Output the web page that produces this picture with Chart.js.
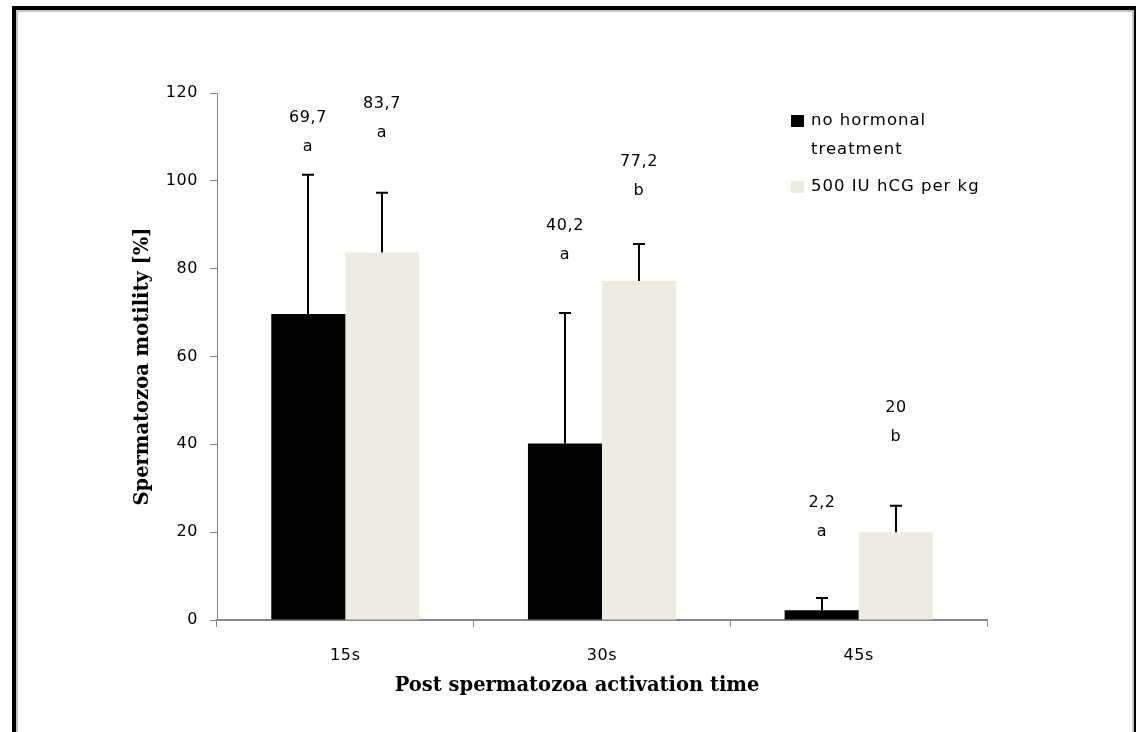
<!DOCTYPE html>
<html>
<head>
<meta charset="utf-8">
<script src="https://cdn.jsdelivr.net/npm/chart.js@4.4.1/dist/chart.umd.min.js"></script>
<style>
    html, body { margin: 0; padding: 0; background: #fff; overflow: hidden; }
    #frame {
        position: absolute; left: 12px; top: 6px; width: 1118px; height: 740px;
        border: 4px solid #000; border-bottom: none;
        box-shadow: inset 0 0 0 2px #c4c4c4;
    }
    #chart { position: absolute; left: 0; top: 0; }
</style>
</head>
<body>
<div id="frame"></div>
<canvas id="chart" width="1136" height="732"></canvas>
<script>
const categories = ['15s', '30s', '45s'];
const seriesNames = ['no hormonal treatment', '500 IU hCG per kg'];
const noHormone = [69.7, 40.2, 2.2];
const hcg = [83.7, 77.2, 20];
const noHormoneErr = [31.7, 29.7, 2.8];
const hcgErr = [13.6, 8.4, 6.0];
const noHormoneLetters = ['a', 'a', 'a'];
const hcgLetters = ['a', 'b', 'b'];
// value level where each significance letter is written
const noHormoneLetterAt = [107.7, 83.1, 20.0];
const hcgLetterAt = [110.9, 97.7, 41.7];
const yTicks = [0, 20, 40, 60, 80, 100, 120];
const xTitle = 'Post spermatozoa activation time';
const yTitle = 'Spermatozoa motility [%]';

const sansFont = "'DejaVu Sans', sans-serif";
const serifFont = "'DejaVu Serif', serif";

const spacing = {
    id: 'spacing',
    beforeDraw(chart) {
        chart.ctx.letterSpacing = '0.6px';
    }
};

const errorBars = {
    id: 'errorBars',
    afterDatasetsDraw(chart) {
        const ctx = chart.ctx;
        const y = chart.scales.y;
        ctx.save();
        ctx.strokeStyle = '#000';
        ctx.lineWidth = 2;
        chart.data.datasets.forEach(function (ds, di) {
            chart.getDatasetMeta(di).data.forEach(function (bar, i) {
                const top = y.getPixelForValue(ds.data[i] + ds.errors[i]);
                const base = y.getPixelForValue(ds.data[i]);
                const x = Math.round(bar.x);
                ctx.beginPath();
                ctx.moveTo(x, base);
                ctx.lineTo(x, top);
                ctx.moveTo(x - 6, top);
                ctx.lineTo(x + 6, top);
                ctx.stroke();

                // value and letter above the bar
                const ly = y.getPixelForValue(ds.letterAt[i]);
                ctx.fillStyle = '#000';
                ctx.font = '16px ' + sansFont;
                ctx.textAlign = 'center';
                ctx.textBaseline = 'middle';
                ctx.fillText(String(ds.data[i]).replace('.', ','), x, ly - 29);
                ctx.fillText(ds.letters[i], x, ly);
            });
        });
        ctx.restore();
    }
};

const sideLegend = {
    id: 'sideLegend',
    afterDraw(chart) {
        const ctx = chart.ctx;
        const area = chart.chartArea;
        const x0 = area.left + 574;
        const y0 = area.top + 28;
        ctx.save();
        ctx.font = '16.5px ' + sansFont;
        ctx.letterSpacing = '1px';
        ctx.textAlign = 'left';
        ctx.textBaseline = 'middle';
        ctx.fillStyle = '#000';
        ctx.fillRect(x0, y0 - 6, 13, 12);
        ctx.fillText('no hormonal', x0 + 20, y0);
        ctx.fillText('treatment', x0 + 20, y0 + 29);
        ctx.fillStyle = '#EEECE1';
        ctx.fillRect(x0, y0 + 60, 13, 12);
        ctx.fillStyle = '#000';
        ctx.fillText(seriesNames[1], x0 + 20, y0 + 66);

        // axis titles
        ctx.letterSpacing = '0px';
        ctx.font = 'bold 19.5px ' + serifFont;
        ctx.textAlign = 'center';
        ctx.fillText(xTitle, (area.left + area.right) / 2 - 25, area.bottom + 66);
        ctx.translate(area.left - 74, (area.top + area.bottom) / 2 + 10);
        ctx.rotate(-Math.PI / 2);
        ctx.fillText(yTitle, 0, 0);
        ctx.restore();
    }
};

new Chart(document.getElementById('chart'), {
    type: 'bar',
    data: {
        labels: categories,
        datasets: [{
            label: seriesNames[0],
            data: noHormone,
            errors: noHormoneErr,
            letters: noHormoneLetters,
            letterAt: noHormoneLetterAt,
            backgroundColor: '#000000',
            categoryPercentage: 0.577,
            barPercentage: 1.0
        }, {
            label: seriesNames[1],
            data: hcg,
            errors: hcgErr,
            letters: hcgLetters,
            letterAt: hcgLetterAt,
            backgroundColor: '#EEECE1',
            categoryPercentage: 0.577,
            barPercentage: 1.0
        }]
    },
    options: {
        responsive: false,
        animation: false,
        layout: { padding: { left: 17, top: 93, right: 149, bottom: 0 } },
        plugins: {
            legend: { display: false },
            tooltip: { enabled: false }
        },
        scales: {
            x: {
                afterFit: function (scale) { scale.height = 112; },
                grid: { drawOnChartArea: false, color: '#868686', tickLength: 7, lineWidth: 1 },
                border: { color: '#868686', width: 2 },
                ticks: { color: '#000', font: { family: sansFont, size: 16 }, padding: 19 }
            },
            y: {
                min: 0,
                max: 120,
                afterFit: function (scale) { scale.width = 200; },
                afterBuildTicks: function (scale) {
                    scale.ticks = yTicks.map(function (v) { return { value: v }; });
                },
                grid: { drawOnChartArea: false, color: '#868686', tickLength: 7 },
                border: { color: '#868686', width: 1 },
                ticks: { color: '#000', font: { family: sansFont, size: 16 }, padding: 12 }
            }
        }
    },
    plugins: [spacing, errorBars, sideLegend]
});
</script>
</body>
</html>
